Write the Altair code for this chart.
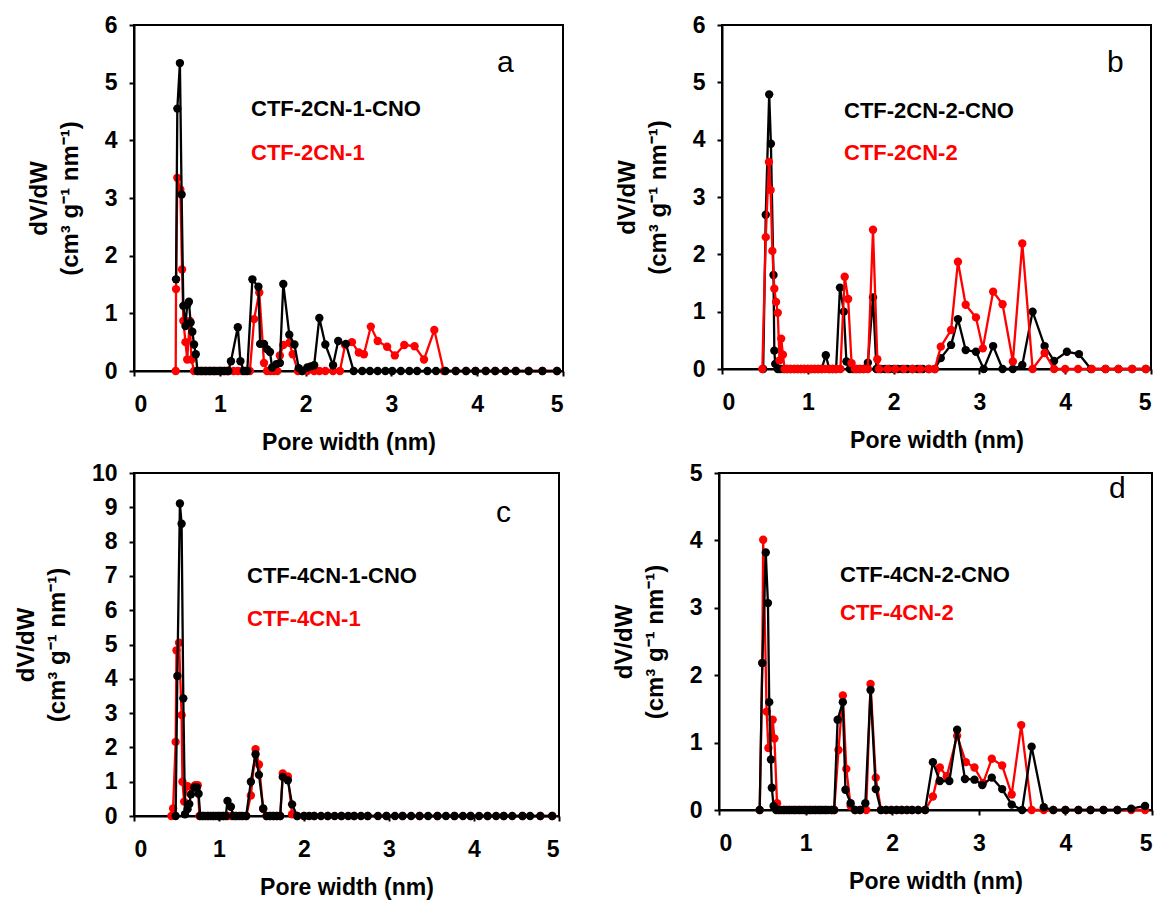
import altair as alt
import pandas as pd

# ---------------- data ----------------
# Panel a
A_CNO_X = [0.49, 0.505, 0.535, 0.555, 0.575, 0.60, 0.62, 0.64, 0.66, 0.68, 0.70, 0.72, 0.74,
           0.77, 0.79, 0.82, 0.84, 0.87, 0.89, 0.92, 0.94, 0.97, 1.00, 1.02, 1.05, 1.08, 1.10,
           1.13, 1.21, 1.24, 1.28, 1.32, 1.38, 1.45, 1.47, 1.515, 1.55, 1.585, 1.61, 1.66, 1.70,
           1.74, 1.81, 1.87, 1.92, 1.96, 2.02, 2.06, 2.10, 2.16, 2.23, 2.32, 2.38, 2.47, 2.56,
           2.66, 2.75, 2.84, 2.93, 3.01, 3.11, 3.21, 3.30, 3.42, 3.52, 3.63, 3.75, 3.87, 3.98,
           4.10, 4.21, 4.33, 4.45, 4.60, 4.76, 4.93]
A_CNO_Y = [1.59, 4.55, 5.34, 3.06, 1.13, 0.78, 1.15, 1.20, 0.84, 0.68, 0.46, 0.29, 0.0,
           0, 0, 0, 0, 0, 0, 0, 0, 0, 0, 0, 0, 0, 0,
           0.17, 0.76, 0.17, 0, 0, 1.59, 1.46, 0.47, 0.47, 0.38, 0.33, 0.06, 0.12, 0.14,
           1.51, 0.63, 0.46, 0.05, 0, 0.06, 0.08, 0.10, 0.92, 0.46, 0.10, 0.52, 0.47, 0,
           0, 0, 0, 0, 0, 0, 0, 0, 0, 0, 0, 0, 0, 0,
           0, 0, 0, 0, 0, 0, 0]
A_X = [0.486, 0.49, 0.505, 0.54, 0.56, 0.575, 0.60, 0.62, 0.65, 0.67, 0.70, 0.74, 0.79, 0.84,
       0.89, 0.94, 1.00, 1.05, 1.10, 1.16, 1.21, 1.26, 1.30, 1.35, 1.40, 1.46, 1.515, 1.55,
       1.59, 1.63, 1.67, 1.70, 1.74, 1.81, 1.85, 1.91, 1.96, 2.02, 2.10, 2.16, 2.23, 2.32,
       2.40, 2.46, 2.54, 2.62, 2.68, 2.76, 2.84, 2.95, 3.04, 3.15, 3.27, 3.38, 3.50, 3.61,
       3.75, 3.87, 3.98, 4.10, 4.21, 4.33, 4.45, 4.60, 4.76, 4.93]
A_Y = [0, 1.42, 3.35, 3.15, 1.76, 0.87, 0.50, 0.20, 0.87, 0.20, 0, 0, 0, 0,
       0, 0, 0, 0, 0, 0, 0, 0, 0, 0, 0.90, 1.36, 0.14, 0,
       0, 0, 0, 0.27, 0.45, 0.49, 0.29, 0, 0, 0, 0, 0, 0, 0,
       0, 0.45, 0.50, 0.32, 0.29, 0.77, 0.52, 0.42, 0.27, 0.45, 0.43, 0.20, 0.71, 0,
       0, 0, 0, 0, 0, 0, 0, 0, 0, 0]

# Panel b
B_CNO_X = [0.48, 0.51, 0.55, 0.57, 0.60, 0.61, 0.62, 0.65, 0.68, 0.72, 0.76, 0.80, 0.84, 0.88,
           0.92, 0.96, 1.00, 1.04, 1.08, 1.12, 1.16, 1.21, 1.25, 1.29, 1.33, 1.375, 1.42, 1.45,
           1.49, 1.53, 1.57, 1.61, 1.65, 1.70, 1.76, 1.80, 1.85, 1.90, 1.95, 2.00, 2.05, 2.10,
           2.16, 2.22, 2.28, 2.34, 2.41, 2.48, 2.55, 2.67, 2.75, 2.84, 2.96, 3.05, 3.16, 3.27,
           3.39, 3.50, 3.62, 3.76, 3.87, 4.02, 4.16, 4.30, 4.47, 4.62, 4.78, 4.94]
B_CNO_Y = [0, 2.69, 4.79, 3.93, 1.64, 0.32, 0.09, 0, 0, 0, 0, 0, 0, 0,
           0, 0, 0, 0, 0, 0, 0, 0.24, 0, 0, 0, 1.42, 1.00, 0.13,
           0, 0, 0, 0, 0, 0.11, 1.25, 0, 0, 0, 0, 0, 0, 0,
           0, 0, 0, 0, 0, 0, 0.19, 0.42, 0.87, 0.33, 0.30, 0, 0.40, 0,
           0, 0.07, 1.00, 0.40, 0.14, 0.30, 0.26, 0, 0, 0, 0, 0]
B_X = [0.47, 0.51, 0.547, 0.567, 0.587, 0.61, 0.63, 0.65, 0.67, 0.69, 0.71, 0.73, 0.76, 0.80,
       0.84, 0.88, 0.92, 0.96, 1.00, 1.04, 1.08, 1.12, 1.16, 1.20, 1.25, 1.29, 1.33, 1.38,
       1.43, 1.47, 1.51, 1.55, 1.60, 1.65, 1.70, 1.76, 1.81, 1.83, 1.93, 2.02, 2.12, 2.22,
       2.31, 2.41, 2.48, 2.55, 2.67, 2.75, 2.84, 2.96, 3.04, 3.16, 3.27, 3.39, 3.50, 3.62,
       3.76, 3.87, 4.00, 4.15, 4.31, 4.47, 4.62, 4.78, 4.94]
B_Y = [0, 2.30, 3.61, 3.12, 2.06, 1.40, 1.17, 0.98, 0.15, 0.53, 0.25, 0, 0, 0,
       0, 0, 0, 0, 0, 0, 0, 0, 0, 0, 0, 0, 0, 0,
       1.61, 1.22, 0.10, 0, 0, 0, 0, 2.43, 0.17, 0, 0, 0, 0, 0,
       0, 0, 0, 0.39, 0.68, 1.87, 1.12, 0.90, 0.36, 1.35, 1.13, 0.13, 2.19, 0,
       0.28, 0, 0, 0, 0, 0, 0, 0, 0]

# Panel c
C_CNO_X = [0.49, 0.51, 0.54, 0.56, 0.58, 0.60, 0.63, 0.65, 0.67, 0.71, 0.74, 0.76, 0.78, 0.81,
           0.84, 0.87, 0.90, 0.93, 0.96, 0.99, 1.02, 1.05, 1.08, 1.10, 1.14, 1.17, 1.20, 1.24,
           1.28, 1.32, 1.375, 1.43, 1.47, 1.52, 1.56, 1.60, 1.64, 1.68, 1.72, 1.75, 1.81, 1.86,
           1.92, 2.00, 2.06, 2.12, 2.20, 2.28, 2.36, 2.44, 2.52, 2.59, 2.67, 2.75, 2.87, 2.97,
           3.07, 3.16, 3.26, 3.36, 3.46, 3.57, 3.67, 3.77, 3.87, 3.96, 4.06, 4.16, 4.26, 4.35,
           4.45, 4.57, 4.66, 4.78, 4.92]
C_CNO_Y = [0, 4.08, 9.11, 8.52, 3.43, 0.05, 0.20, 0.35, 0.63, 0.83, 0.83, 0.65, 0, 0,
           0, 0, 0, 0, 0, 0, 0, 0, 0, 0.44, 0.27, 0, 0, 0,
           0, 0, 1.00, 1.80, 1.20, 0.22, 0, 0, 0, 0, 0, 1.14, 1.04, 0.34,
           0, 0, 0, 0, 0, 0, 0, 0, 0, 0, 0, 0, 0, 0,
           0, 0, 0, 0, 0, 0, 0, 0, 0, 0, 0, 0, 0, 0,
           0, 0, 0, 0, 0]
C_X = [0.44, 0.46, 0.49, 0.50, 0.53, 0.56, 0.57, 0.59, 0.63, 0.68, 0.72, 0.75, 0.77, 0.81,
       0.87, 0.93, 0.99, 1.05, 1.10, 1.14, 1.20, 1.26, 1.32, 1.375, 1.43, 1.47, 1.52, 1.56,
       1.60, 1.64, 1.68, 1.72, 1.75, 1.81, 1.86, 1.92, 2.00, 2.12, 2.28, 2.44, 2.59, 2.75,
       2.97, 3.16, 3.36, 3.57, 3.77, 3.96, 4.16, 4.35, 4.57, 4.78, 4.92]
C_Y = [0, 0.22, 2.16, 4.83, 5.05, 2.94, 1.00, 0.42, 0.87, 0.82, 0.90, 0.90, 0, 0,
       0, 0, 0, 0, 0, 0, 0, 0, 0, 0.60, 1.95, 1.50, 0.20, 0,
       0, 0, 0, 0, 1.24, 1.15, 0.05, 0, 0, 0, 0, 0, 0, 0,
       0, 0, 0, 0, 0, 0, 0, 0, 0, 0, 0]

# Panel d
D_CNO_X = [0.47, 0.50, 0.54, 0.565, 0.58, 0.60, 0.61, 0.63, 0.66, 0.69, 0.72, 0.75, 0.78, 0.81,
           0.84, 0.87, 0.90, 0.93, 0.96, 0.99, 1.02, 1.05, 1.08, 1.11, 1.14, 1.17, 1.20, 1.23,
           1.26, 1.30, 1.33, 1.37, 1.43, 1.46, 1.52, 1.57, 1.63, 1.69, 1.75, 1.81, 1.87, 1.93,
           1.99, 2.05, 2.11, 2.17, 2.23, 2.30, 2.38, 2.47, 2.55, 2.66, 2.75, 2.84, 2.95, 3.04,
           3.15, 3.27, 3.38, 3.50, 3.61, 3.75, 3.86, 4.00, 4.15, 4.29, 4.44, 4.60, 4.76, 4.92]
D_CNO_Y = [0, 2.18, 3.82, 3.07, 1.60, 0.75, 0.33, 0.06, 0, 0, 0, 0, 0, 0,
           0, 0, 0, 0, 0, 0, 0, 0, 0, 0, 0, 0, 0, 0,
           0, 0, 0, 1.34, 1.60, 0.30, 0.10, 0, 0, 0.10, 1.78, 0.31, 0, 0,
           0, 0, 0, 0, 0, 0, 0, 0.71, 0.43, 0.43, 1.19, 0.46, 0.45, 0.37,
           0.48, 0.31, 0.08, 0, 0.94, 0.04, 0, 0, 0, 0, 0, 0, 0.02, 0.06]
D_X = [0.47, 0.50, 0.51, 0.55, 0.57, 0.60, 0.62, 0.64, 0.67, 0.70, 0.75, 0.81, 0.87, 0.93,
       0.99, 1.05, 1.11, 1.17, 1.23, 1.30, 1.33, 1.38, 1.43, 1.47, 1.52, 1.57, 1.63, 1.70,
       1.75, 1.81, 1.87, 1.93, 1.99, 2.05, 2.11, 2.17, 2.23, 2.30, 2.38, 2.47, 2.55, 2.63,
       2.75, 2.85, 2.95, 3.05, 3.15, 3.27, 3.38, 3.49, 3.61, 3.75, 3.86, 4.00, 4.15, 4.29,
       4.44, 4.60, 4.76, 4.92]
D_Y = [0, 2.18, 4.01, 1.46, 0.92, 1.10, 1.34, 1.06, 0.10, 0, 0, 0, 0, 0,
       0, 0, 0, 0, 0, 0, 0, 0.89, 1.70, 0.61, 0.06, 0, 0, 0,
       1.87, 0.48, 0, 0, 0, 0, 0, 0, 0, 0, 0, 0.20, 0.63, 0.50,
       1.10, 0.71, 0.63, 0.40, 0.76, 0.66, 0.23, 1.26, 0, 0, 0, 0, 0, 0,
       0, 0, 0, 0]

X_TICKS = [0, 1, 2, 3, 4, 5]
X_TITLE = "Pore width (nm)"
Y_TITLE = ["dV/dW", "(cm³ g⁻¹ nm⁻¹)"]

FONT = "Liberation Sans"
BLACK = "#000000"
RED = "#ff0000"


def series(xs, ys, color, ymax):
    df = pd.DataFrame({"x": xs, "y": ys, "i": list(range(len(xs)))})
    return alt.Chart(df).mark_line(
        color=color, strokeWidth=2.3,
        point=alt.OverlayMarkDef(color=color, filled=True, size=70, opacity=1),
    ).encode(
        x=alt.X("x:Q", scale=alt.Scale(domain=[0, 5], nice=False),
                axis=alt.Axis(values=X_TICKS, title=X_TITLE, format="d")),
        y=alt.Y("y:Q", scale=alt.Scale(domain=[0, ymax], nice=False),
                axis=alt.Axis(values=list(range(0, ymax + 1)), title=Y_TITLE, format="d")),
        order="i:Q",
    )


def label(txt, color, px, py, size=22, weight="bold"):
    return alt.Chart(pd.DataFrame({"t": [txt]})).mark_text(
        align="left", baseline="middle", font=FONT, fontSize=size,
        fontWeight=weight, color=color,
    ).encode(text="t:N", x=alt.value(px), y=alt.value(py))


def panel(bx, by, rx, ry, ymax, w, h, lab_b, lab_r, letter, red_top, lpos, rpos, letpos):
    black = series(bx, by, BLACK, ymax)
    red = series(rx, ry, RED, ymax)
    lines = [black, red] if red_top else [red, black]
    return alt.layer(
        *lines,
        label(lab_b, BLACK, lpos[0], lpos[1]),
        label(lab_r, RED, rpos[0], rpos[1]),
        label(letter, BLACK, letpos[0], letpos[1], size=30, weight="normal"),
    ).properties(width=w, height=h)


pa = panel(A_CNO_X, A_CNO_Y, A_X, A_Y, 6, 429, 346, "CTF-2CN-1-CNO", "CTF-2CN-1", "a",
           False, (117, 84), (117, 128), (363, 38))
pb = panel(B_CNO_X, B_CNO_Y, B_X, B_Y, 6, 429, 344, "CTF-2CN-2-CNO", "CTF-2CN-2", "b",
           True, (122, 86), (122, 128), (385, 38))
pc = panel(C_CNO_X, C_CNO_Y, C_X, C_Y, 10, 425, 343, "CTF-4CN-1-CNO", "CTF-4CN-1", "c",
           False, (113, 103), (113, 146), (362, 40))
pd_ = panel(D_CNO_X, D_CNO_Y, D_X, D_Y, 5, 433, 337, "CTF-4CN-2-CNO", "CTF-4CN-2", "d",
            False, (121, 102), (121, 140), (390, 16))

chart = alt.vconcat(
    alt.hconcat(pa, pb, spacing=49),
    alt.hconcat(pc, pd_, spacing=50),
    spacing=6,
).configure_view(
    stroke=BLACK, strokeWidth=2,
).configure_axis(
    grid=False,
    domainColor=BLACK, domainWidth=2,
    tickColor=BLACK, tickWidth=2, tickSize=5,
    labelFont=FONT, labelFontSize=23, labelFontWeight="bold", labelColor=BLACK,
    titleFont=FONT, titleFontSize=23, titleFontWeight="bold", titleColor=BLACK,
).configure_axisX(
    labelPadding=17, titlePadding=15,
).configure_axisY(
    labelPadding=12, titlePadding=22, titleLineHeight=31, titleFontSize=24,
).properties(background="white")

chart.save("out.html", embed_options={"renderer": "svg", "actions": False})
